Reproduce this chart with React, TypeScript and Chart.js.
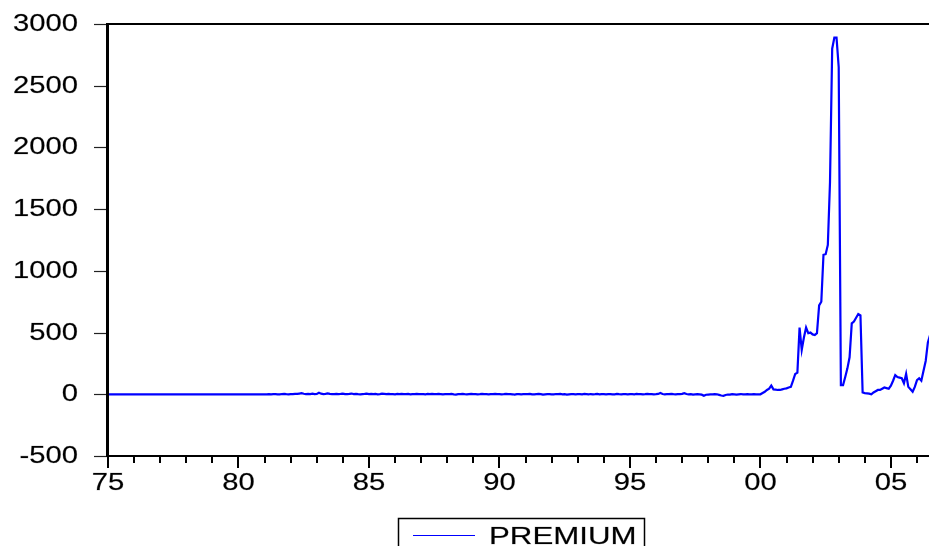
import React, { useEffect, useRef } from "react";
import { Chart, registerables } from "chart.js";

Chart.register(...registerables);

const startYear = 1975;
const seriesName = "PREMIUM";

// Monthly PREMIUM values, 1975:01 onwards (one row per year)
const premium: number[] = [
  // 1975
  0, 0, 0, 0, 0, 0, 0, 0, 0, 0, 0, 0,
  // 1976
  0, 0, 0, 0, 0, 0, 0, 0, 0, 0, 0, 0,
  // 1977
  0, 0, 0, 0, 0, 0, 0, 0, 0, 0, 0, 0,
  // 1978
  0, 0, 0, 0, 0, 0, 0, 0, 0, 0, 0, 0,
  // 1979
  0, 0, 0, 0, 0, 0, 0, 0, 0, 0, 0, 0,
  // 1980
  0, 0, 0, 0, 0, 0, 0, 0, 0, 0, 0, 0,
  // 1981
  0, 0, 1, 0, 2, 1, 0, -1, 2, 3, 1, 0,
  // 1982
  2, 1, 4, 3, 6, 9, 4, 2, 3, 1, 5, 2,
  // 1983
  3, 12, 5, 2, 4, 7, 3, 1, 2, 4, 2, 3,
  // 1984
  5, 2, 1, 3, 6, 2, 4, 1, 0, 2, 3, 5,
  // 1985
  2, 4, 1, 3, 0, 2, 5, 3, 1, 4, 2, 1,
  // 1986
  0, 3, 2, 4, 1, 2, 3, 0, 2, 1, 3, 2,
  // 1987
  1, 2, 0, 3, 1, 4, 2, 1, 3, 2, 0, 1,
  // 1988
  2, 1, 3, 0, -2, 1, 2, 4, 1, 0, 2, 3,
  // 1989
  1, 2, 0, 1, 3, 2, 1, 0, 2, 1, 3, 1,
  // 1990
  2, 0, 1, 3, 1, 2, 0, -3, 1, 2, 0, 1,
  // 1991
  2, 1, 3, -1, 0, 2, 4, 1, -2, 0, 2, 1,
  // 1992
  0, -1, 2, 1, 3, 0, 1, -2, 0, 2, 1, 0,
  // 1993
  1, 2, 0, 3, 1, -1, 2, 0, 1, 3, 0, 2,
  // 1994
  1, 0, 2, 1, -1, 0, 3, 1, 0, 2, 1, 0,
  // 1995
  2, 1, 0, 3, 1, 2, 0, 1, 4, 2, 1, 0,
  // 1996
  1, 3, 10, 2, 0, 1, 2, 4, 1, 0, 2, 1,
  // 1997
  3, 9, 2, 0, 1, -2, 0, 1, -1, -3, -12, -4,
  // 1998
  -2, 0, -1, 1, 0, -5, -10, -13, -6, -2, -3, 1,
  // 1999
  0, -2, 0, 2, -1, 0, 1, 0, -1, 1, 0, 0,
  // 2000
  0, 10, 20, 35, 45, 70, 40, 38, 35, 35, 40, 45,
  // 2001
  48, 55, 60, 110, 165, 175, 540, 360, 460, 540, 495, 500,
  // 2002
  485, 480, 495, 720, 750, 1130, 1135, 1210, 1720, 2800, 2890, 2890,
  // 2003
  2650, 75, 75, 140, 210, 300, 575, 590, 620, 650, 640, 15,
  // 2004
  10, 8, 5, 0, 15, 25, 35, 35, 45, 55, 50, 45,
  // 2005
  70, 110, 155, 140, 135, 130, 90, 165, 60, 40, 20, 60,
  // 2006
  115, 130, 110, 190, 270, 420, 480,
];

const xMin = 1975;
const xMax = 2006.46;
const xMinorTicks: number[] = [
  1975, 1976, 1977, 1978, 1979, 1980, 1981, 1982, 1983, 1984, 1985, 1986,
  1987, 1988, 1989, 1990, 1991, 1992, 1993, 1994, 1995, 1996, 1997, 1998,
  1999, 2000, 2001, 2002, 2003, 2004, 2005, 2006,
];
const xMajorTicks: number[] = [1975, 1980, 1985, 1990, 1995, 2000, 2005];
const xTickLabels: string[] = ["75", "80", "85", "90", "95", "00", "05"];

const yMin = -500;
const yMax = 3000;
const yTicks: number[] = [-500, 0, 500, 1000, 1500, 2000, 2500, 3000];
const yTickLabels: string[] = ["-500", "0", "500", "1000", "1500", "2000", "2500", "3000"];

const FONT = '"Liberation Sans", Arial, sans-serif';

function drawStretchedText(
  ctx: CanvasRenderingContext2D,
  text: string,
  x: number,
  y: number,
  align: "left" | "center" | "right",
  size: number,
  stretch: number
) {
  ctx.save();
  ctx.font = `${size}px ${FONT}`;
  ctx.textBaseline = "alphabetic";
  ctx.textAlign = "left";
  const w = ctx.measureText(text).width * stretch;
  let left = x;
  if (align === "center") left = x - w / 2;
  if (align === "right") left = x - w;
  ctx.translate(left, y);
  ctx.scale(stretch, 1);
  ctx.fillStyle = "#000000";
  ctx.strokeStyle = "rgba(0,0,0,0.35)";
  ctx.lineWidth = 0.5;
  ctx.fillText(text, 0, 0);
  ctx.strokeText(text, 0, 0);
  ctx.restore();
}

const axesPlugin = {
  id: "eviewsAxes",
  afterDraw(chart: any) {
    const ctx: CanvasRenderingContext2D = chart.ctx;
    const xs = chart.scales.x;
    const ys = chart.scales.y;
    const area = chart.chartArea;
    const W = chart.width;
    ctx.save();

    // Y ticks + labels
    ctx.strokeStyle = "#222222";
    ctx.lineWidth = 1.2;
    yTicks.forEach((v, i) => {
      const py = Math.round(ys.getPixelForValue(v)) + 0.5;
      ctx.beginPath();
      ctx.moveTo(94, py);
      ctx.lineTo(area.left, py);
      ctx.stroke();
      drawStretchedText(ctx, yTickLabels[i], 78, py + 6, "right", 23, 1.27);
    });

    // X ticks
    ctx.strokeStyle = "#000000";
    ctx.lineWidth = 2;
    xMinorTicks.forEach((v) => {
      const px = Math.round(xs.getPixelForValue(v));
      const major = xMajorTicks.indexOf(v) >= 0;
      ctx.beginPath();
      ctx.moveTo(px, area.bottom);
      ctx.lineTo(px, area.bottom + (major ? 12 : 7));
      ctx.stroke();
    });
    xMajorTicks.forEach((v, i) => {
      const px = xs.getPixelForValue(v);
      drawStretchedText(ctx, xTickLabels[i], px, 489.5, "center", 23, 1.27);
    });

    // Frame: left (thick), bottom, top
    ctx.strokeStyle = "#000000";
    ctx.lineWidth = 3;
    ctx.beginPath();
    ctx.moveTo(area.left - 0.5, area.top - 1);
    ctx.lineTo(area.left - 0.5, area.bottom + 1);
    ctx.stroke();
    ctx.lineWidth = 2;
    ctx.beginPath();
    ctx.moveTo(area.left - 2, area.bottom);
    ctx.lineTo(W, area.bottom);
    ctx.stroke();
    ctx.beginPath();
    ctx.moveTo(area.left - 2, area.top);
    ctx.lineTo(W, area.top);
    ctx.stroke();

    // Legend
    const bx = 398;
    const by = 518;
    const bw = 246;
    ctx.lineWidth = 1.5;
    ctx.strokeStyle = "#000000";
    ctx.strokeRect(bx + 0.5, by + 0.5, bw, 60);
    ctx.strokeStyle = "#0000FF";
    ctx.lineWidth = 1;
    ctx.beginPath();
    ctx.moveTo(413, 535.5);
    ctx.lineTo(475, 535.5);
    ctx.stroke();
    drawStretchedText(ctx, seriesName, 489, 543.5, "left", 23.5, 1.33);

    ctx.restore();
  },
};

export default function App() {
  const ref = useRef<HTMLCanvasElement | null>(null);

  useEffect(() => {
    if (!ref.current) return;
    const points = premium.map((v, i) => ({ x: startYear + i / 12, y: v }));
    const chart = new Chart(ref.current, {
      type: "line",
      data: {
        datasets: [
          {
            label: seriesName,
            data: points,
            borderColor: "#0000FF",
            borderWidth: 2.2,
            pointRadius: 0,
            tension: 0,
            fill: false,
          },
        ],
      },
      options: {
        animation: false,
        responsive: false,
        devicePixelRatio: 1,
        layout: { padding: { top: 24, left: 0, right: 0, bottom: 0 } },
        plugins: {
          legend: { display: false },
          tooltip: { enabled: false },
        },
        scales: {
          x: {
            type: "linear",
            min: xMin,
            max: xMax,
            grid: { display: false },
            border: { display: false },
            ticks: { display: false },
            afterBuildTicks: (scale: any) => {
              scale.ticks = xMinorTicks.map((v) => ({ value: v }));
            },
            afterFit: (scale: any) => {
              scale.height = 90;
            },
          },
          y: {
            type: "linear",
            min: yMin,
            max: yMax,
            grid: { display: false },
            border: { display: false },
            ticks: { display: false },
            afterBuildTicks: (scale: any) => {
              scale.ticks = yTicks.map((v) => ({ value: v }));
            },
            afterFit: (scale: any) => {
              scale.width = 108;
            },
          },
        },
      },
      plugins: [axesPlugin],
    });
    return () => chart.destroy();
  }, []);

  return (
    <div style={{ position: "fixed", left: 0, top: 0, width: 929, height: 546, background: "#ffffff" }}>
      <canvas ref={ref} width={929} height={546} style={{ display: "block", width: 929, height: 546 }} />
    </div>
  );
}
